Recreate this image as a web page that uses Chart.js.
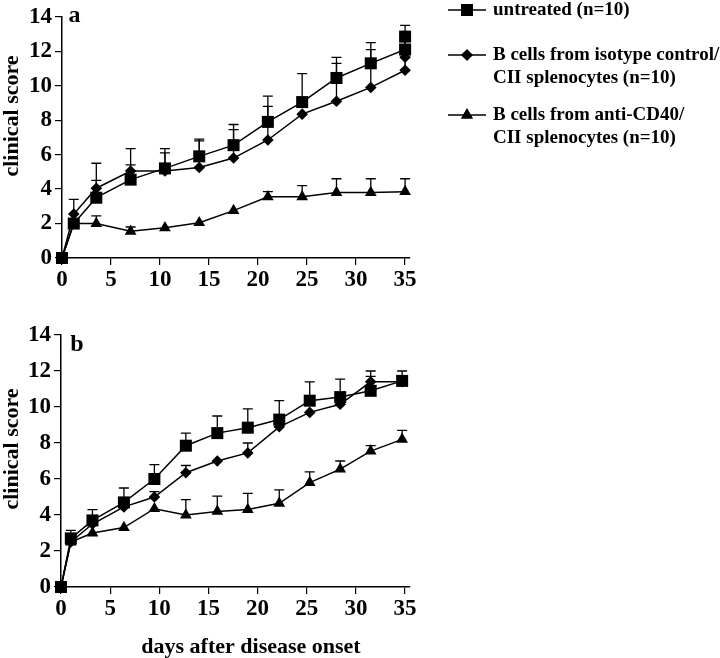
<!DOCTYPE html>
<html><head><meta charset="utf-8">
<script src="https://cdn.jsdelivr.net/npm/chart.js@4.4.1/dist/chart.umd.min.js"></script>
<style>
html,body{margin:0;padding:0;background:#fff;}
#ca{position:absolute;left:0;top:0;}
#cb{position:absolute;left:0;top:300px;}
</style></head><body>
<canvas id="ca" width="720" height="300"></canvas>
<canvas id="cb" width="720" height="358"></canvas>
<script>
// ---- data ----
const xTicks = [0, 5, 10, 15, 20, 25, 30, 35];
const yTicks = [0, 2, 4, 6, 8, 10, 12, 14];
const seriesNames = ['untreated (n=10)', 'B cells from isotype control/ CII splenocytes (n=10)', 'B cells from anti-CD40/ CII splenocytes (n=10)'];
const legendLines = [['untreated (n=10)'], ['B cells from isotype control/', 'CII splenocytes (n=10)'], ['B cells from anti-CD40/', 'CII splenocytes (n=10)']];

// panel a
const aDays      = [0, 1.2, 3.5, 7, 10.5, 14, 17.5, 21, 24.5, 28, 31.5, 35, 35];
const aUntreated = [0, 2.0, 3.5, 4.55, 5.2, 5.9, 6.55, 7.9, 9.05, 10.45, 11.3, 12.1, 12.85];
const aIsotype   = [0, 2.55, 4.05, 5.05, 5.05, 5.25, 5.8, 6.85, 8.35, 9.1, 9.9, 10.9, 11.65];
const aAntiCD40  = [0, 2.0, 2.0, 1.55, 1.75, 2.05, 2.75, 3.55, 3.55, 3.8, 3.8, 3.85];
const aUntreatedErrTop = [null, null, 5.5, 6.35, 6.35, 6.9, 7.75, 9.4, 10.7, 11.65, 12.5, 13.1, 13.5];
const aIsotypeErrTop   = [null, 3.4, 4.5, 5.4, 6.1, 6.8, 7.45, 8.8, null, 11.3, 12.1, null, null];
const aAntiErrTop      = [null, null, 2.45, 1.8, null, null, null, 3.85, 4.2, 4.6, 4.6, 4.6];

// panel b
const bDays      = [0, 1, 3.2, 6.4, 9.5, 12.7, 15.9, 19, 22.2, 25.3, 28.4, 31.5, 34.7];
const bUntreated = [0, 2.7, 3.7, 4.7, 6.0, 7.85, 8.55, 8.85, 9.3, 10.35, 10.55, 10.9, 11.45];
const bIsotype   = [0, 2.5, 3.5, 4.45, 5.0, 6.35, 7.0, 7.45, 8.9, 9.7, 10.15, 11.4, 11.4];
const bAntiCD40  = [0, 2.5, 3.0, 3.3, 4.35, 4.0, 4.2, 4.3, 4.65, 5.8, 6.55, 7.55, 8.2];
const bUntreatedErrTop = [null, 3.15, 4.3, 5.5, 6.8, 8.55, 9.5, 9.9, 10.35, 11.4, 11.55, 11.7, 12.0];
const bIsotypeErrTop   = [null, null, null, null, 5.3, 6.75, null, 8.0, null, null, null, 12.0, null];
const bAntiErrTop      = [null, null, null, null, null, 4.85, 5.05, 5.2, 5.4, 6.4, 7.0, 7.85, 8.7];

// ---- styling ----
const FONT = "'Liberation Serif', 'Times New Roman', serif";
const styles = [
  {pointStyle: 'rect', pointRadius: 8.5},
  {pointStyle: 'rectRot', pointRadius: 5.8},
  {pointStyle: 'triangle', pointRadius: 6.8}
];

function pts(days, vals) { return vals.map((v, i) => ({x: days[i], y: v})); }

function makeDatasets(days, lists) {
  return lists.map((vals, i) => ({
    label: seriesNames[i],
    data: pts(days, vals),
    showLine: true,
    borderColor: '#000',
    backgroundColor: '#000',
    borderWidth: 1.5,
    pointBackgroundColor: '#000',
    pointBorderColor: '#000',
    pointBorderWidth: 0,
    pointStyle: styles[i].pointStyle,
    pointRadius: styles[i].pointRadius,
    clip: false,
    tension: 0
  }));
}

const errorBarPlugin = {
  id: 'errorBars',
  beforeDatasetsDraw(chart, args, opts) {
    const {ctx, scales: {x, y}} = chart;
    ctx.save();
    ctx.strokeStyle = '#000';
    ctx.lineWidth = 1.3;
    chart.data.datasets.forEach((ds, i) => {
      const tops = opts.tops[i];
      ds.data.forEach((p, j) => {
        if (tops[j] == null) return;
        const px = x.getPixelForValue(p.x);
        const py = y.getPixelForValue(p.y);
        const pt = y.getPixelForValue(tops[j]);
        ctx.beginPath();
        ctx.moveTo(px, py); ctx.lineTo(px, pt);
        ctx.moveTo(px - 5, pt); ctx.lineTo(px + 5, pt);
        ctx.stroke();
      });
    });
    ctx.restore();
  }
};

const textPlugin = {
  id: 'texts',
  afterDraw(chart, args, opts) {
    const ctx = chart.ctx;
    ctx.save();
    ctx.fillStyle = '#000';
    // y axis title
    ctx.font = 'bold 22px ' + FONT;
    ctx.textAlign = 'center';
    ctx.textBaseline = 'middle';
    ctx.save();
    ctx.translate(opts.yTitle.x, opts.yTitle.y);
    ctx.rotate(-Math.PI / 2);
    ctx.fillText('clinical score', 0, 0);
    ctx.restore();
    // panel letter
    ctx.font = 'bold 24px ' + FONT;
    ctx.fillText(opts.letter.t, opts.letter.x, opts.letter.y);
    // x title
    if (opts.xTitle) {
      ctx.font = 'bold 22px ' + FONT;
      ctx.fillText('days after disease onset', opts.xTitle.x, opts.xTitle.y);
    }
    // legend
    if (opts.legend) {
      const L = opts.legend;
      legendLines.forEach((lines, i) => {
        const cy = L.ys[i];
        ctx.strokeStyle = '#000';
        ctx.lineWidth = 1.5;
        ctx.beginPath();
        ctx.moveTo(L.x0, cy); ctx.lineTo(L.x1, cy);
        ctx.stroke();
        Chart.helpers.drawPoint(ctx, {pointStyle: styles[i].pointStyle, radius: styles[i].pointRadius, borderWidth: 0}, (L.x0 + L.x1) / 2, cy);
        ctx.fill();
        ctx.font = 'bold 19px ' + FONT;
        ctx.textAlign = 'left';
        lines.forEach((ln, k) => ctx.fillText(ln, L.tx, cy + k * L.lh));
      });
    }
    ctx.restore();
  }
};

function makeChart(id, days, lists, errs, cfg) {
  return new Chart(document.getElementById(id), {
    type: 'scatter',
    data: {datasets: makeDatasets(days, lists)},
    plugins: [errorBarPlugin, textPlugin],
    options: {
      responsive: false,
      animation: false,
      events: [],
      layout: {padding: cfg.padding},
      plugins: {
        legend: {display: false},
        tooltip: {enabled: false},
        errorBars: {tops: errs},
        texts: cfg.texts
      },
      scales: {
        x: {
          type: 'linear', min: 0, max: 35.5,
          afterBuildTicks: s => { s.ticks = xTicks.map(v => ({value: v})); },
          afterFit: s => { s.height = cfg.xHeight; },
          grid: {drawOnChartArea: false, drawTicks: true, tickLength: 7, color: '#000', lineWidth: 1.2},
          border: {display: true, color: '#000', width: 1.5},
          ticks: {color: '#000', font: {family: FONT, size: 23, weight: 'bold'}, padding: 1, maxRotation: 0, autoSkip: false}
        },
        y: {
          type: 'linear', min: 0, max: 14,
          afterBuildTicks: s => { s.ticks = yTicks.map(v => ({value: v})); },
          afterFit: s => { s.width = cfg.yWidth; },
          grid: {drawOnChartArea: false, drawTicks: true, tickLength: 7, color: '#000', lineWidth: 1.2},
          border: {display: true, color: '#000', width: 1.5},
          ticks: {color: '#000', font: {family: FONT, size: 23, weight: 'bold'}, padding: 3, autoSkip: false}
        }
      }
    }
  });
}

makeChart('ca', aDays, [aUntreated, aIsotype, aAntiCD40], [aUntreatedErrTop, aIsotypeErrTop, aAntiErrTop], {
  padding: {left: 0, right: 310, top: 6, bottom: 0},
  xHeight: 42, yWidth: 62,
  texts: {
    yTitle: {x: 12.5, y: 116},
    letter: {t: 'a', x: 74.5, y: 16},
    legend: {x0: 448, x1: 486, tx: 493, ys: [10, 55, 115], lh: 23.5}
  }
});

makeChart('cb', bDays, [bUntreated, bIsotype, bAntiCD40], [bUntreatedErrTop, bIsotypeErrTop, bAntiErrTop], {
  padding: {left: 0, right: 310, top: 35, bottom: 0},
  xHeight: 71, yWidth: 61,
  texts: {
    yTitle: {x: 12.5, y: 149},
    letter: {t: 'b', x: 77, y: 45},
    xTitle: {x: 251, y: 347}
  }
});
</script>
</body></html>
